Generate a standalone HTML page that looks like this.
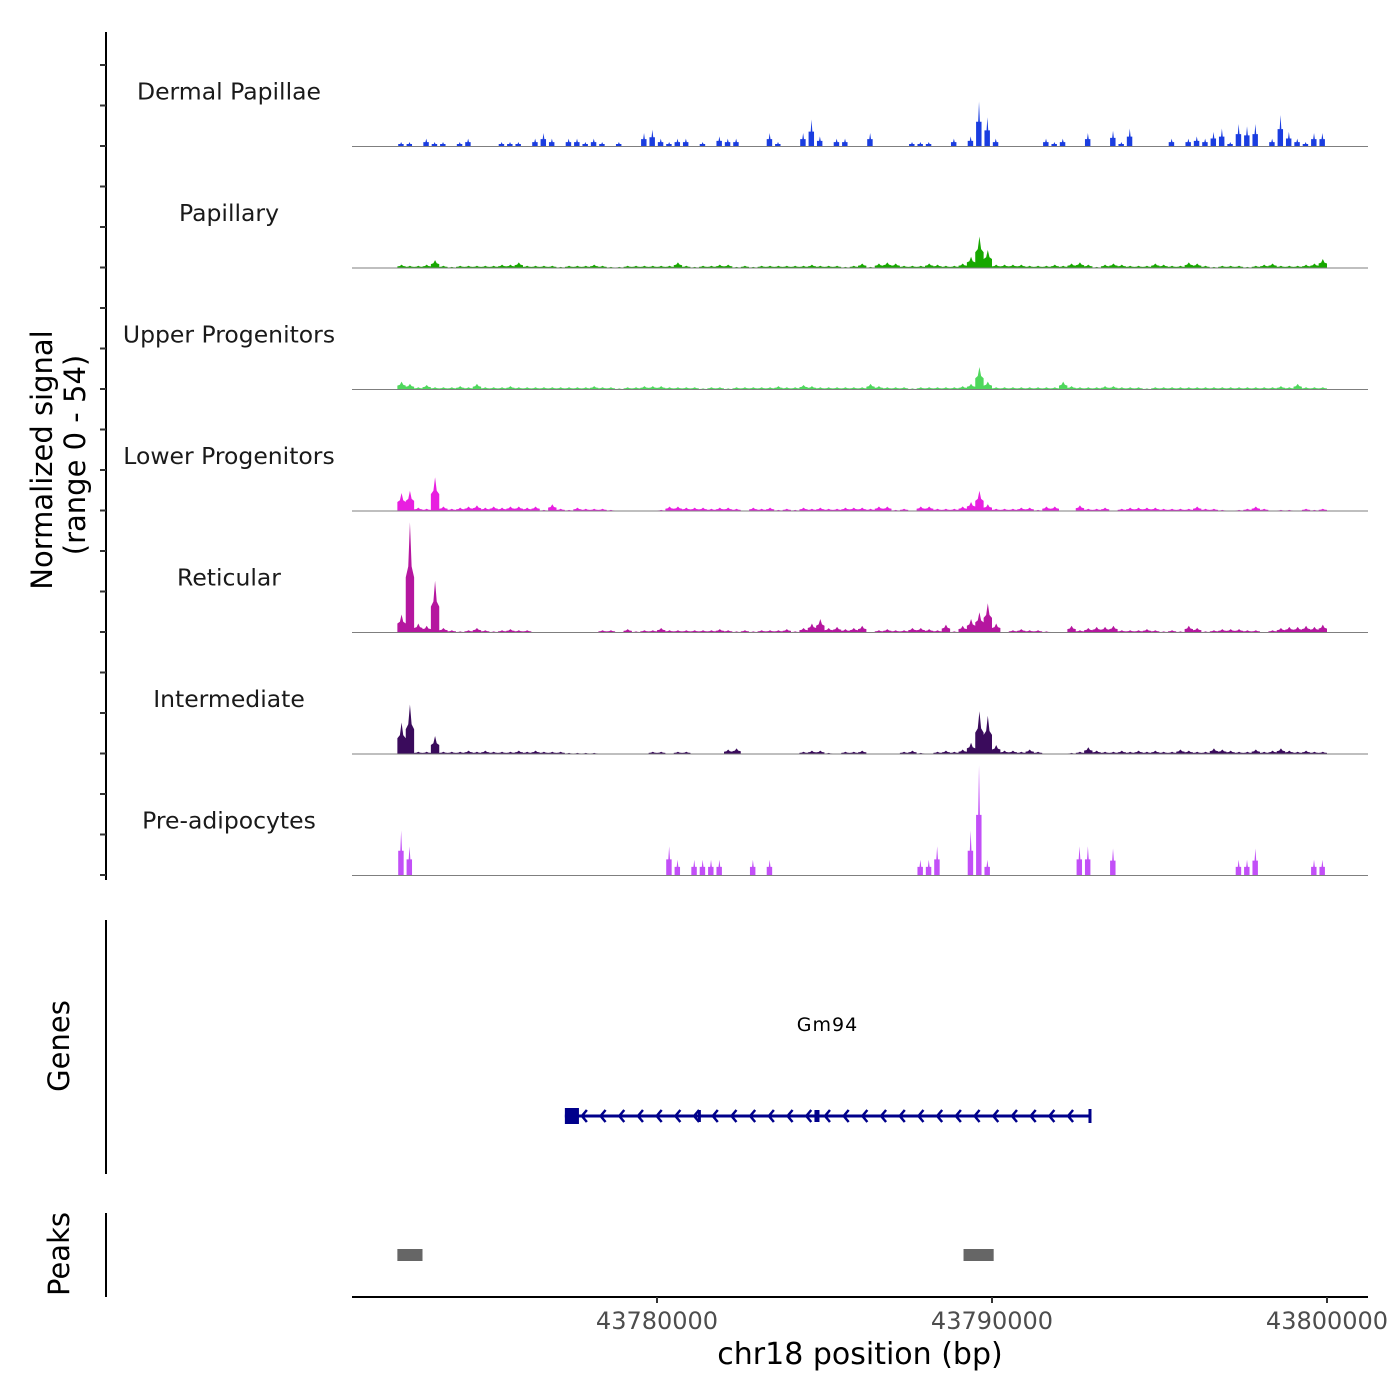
<!DOCTYPE html>
<html><head><meta charset="utf-8">
<style>
html,body{margin:0;padding:0;background:#fff;}
svg{display:block;font-family:"DejaVu Sans","Liberation Sans",sans-serif;}
</style></head>
<body>
<svg id="chart" width="1400" height="1400" viewBox="0 0 1400 1400">
  <g id="tracks"></g>
  <g id="leftaxis"></g>
  <text x="52" y="460" font-size="29" text-anchor="middle" transform="rotate(-90 52 460)">Normalized signal</text>
  <text x="85" y="455" font-size="29" text-anchor="middle" transform="rotate(-90 85 455)">(range 0 - 54)</text>
  <line x1="106" y1="920" x2="106" y2="1174" stroke="#000" stroke-width="2"/>
  <text x="69" y="1046" font-size="29" text-anchor="middle" transform="rotate(-90 69 1046)">Genes</text>
  <line x1="106" y1="1213" x2="106" y2="1297" stroke="#000" stroke-width="2"/>
  <text x="69" y="1254" font-size="29" text-anchor="middle" transform="rotate(-90 69 1254)">Peaks</text>
  <g id="genes"></g>
  <g id="peaks"></g>
  <g id="xaxis"></g>
  <text x="860" y="1364" font-size="30" text-anchor="middle">chr18 position (bp)</text>
</svg>
<script>
// ---- data ----
const trackNames = ["Dermal Papillae","Papillary","Upper Progenitors","Lower Progenitors","Reticular","Intermediate","Pre-adipocytes"];
const trackColors = ["#1a3de0","#17a800","#4fd85c","#e81fe0","#b5169f","#3a0b5c","#c24ff7"];
const binStartKb = 43772.25;
const binStepKb = 0.25;
const dermal = [2,2,0,3.5,2,2,0,2,3.5,0,0,0,2,2,2,0,3.5,6,3.5,0,3.5,3.5,2,3.5,2,0,2,0,0,6,7.5,3.5,2,3.5,3.5,0,2,0,4.5,3.5,3.5,0,0,0,6,2,0,0,6,12,4.5,0,3.5,3.5,0,0,6,0,0,0,0,2,2,2,0,0,3.5,0,4.5,20,13,3.5,0,0,0,0,0,3.5,2,3.5,0,0,6,0,0,7,2,8,0,0,0,0,3.5,0,3.5,4.5,3.5,6.5,8,2,10,9,10,0,3.5,14,6.5,3.5,2,6,6];
const papillary = [1.5,1,1,1.5,3.5,1,0.5,1,1,1,1,1,1.5,1.5,2.5,1,1,1,1,0.5,1,1,1,1.5,1,0.5,0.5,1,1,1,1,1,1,2.5,1,0.5,1,1,1.5,1.5,0.5,1,0.5,1,1,1,1,1,1,1.5,1,1,1,0.5,1,2,0.5,2,2.5,2,1,1,1,2,1.5,1,1,2,5,14,8,1.5,1.5,1.5,1.5,1,1,1,1.5,1,2,2.5,1.5,0.5,1.5,2,1.5,1,1,1,2,1.5,1,1,2.5,2,1,0.5,1,1,1,0.5,1,1.5,2,1,1,1,1.5,2,4];
const upper = [3.5,2.5,1,2,1,1,1,1.5,1,2.5,1,1,1,1.5,1,1,1,1,1,1,1,1,1,1.5,1,1,0.5,1,1,1.5,1.5,1.5,1,1,1,1,0.5,1,1,0.5,1,1,1,1,1,1.5,1,1,2,1.5,1,1,1,1,1,1,2.5,1.5,1,1,1,0.5,1,1,1,1,1,1.5,2.5,10,3.5,1,1,1,1,1,1,1,1,3.5,1.5,1,1,1,1.5,1.5,1,1,1,0.5,1,1,1,1,1,1,1,1,1,1,1,1,1,1,1,1.5,1,2.5,1,1,1];
const lower = [8,9,1.5,1,15,2,1,1.5,2,2.5,1.5,2,1.5,2,2,1.5,2,0.5,3,1,0.5,1.5,1,1,1,0.5,0,0,0,0,0,0.5,2,2,1.5,1.5,1.5,1,1.5,1.5,1,0,1.5,1,1.5,0.5,1,0.5,1.5,1,1.5,1,1,1.5,1.5,1.5,1,2,2,0.5,1,0,2,2,1,1,1,2,4,9,3,1,1,1,1.5,1.5,0.5,2,2,0,0,2.5,1,1,1.5,0,1,1.5,1.5,1.5,1.5,1,1,1,1,2,1,1,0.5,0,0.5,1,2,1,0,0.5,0.5,0,1,0.5,1];
const reticular = [8,49,4,3,23,2,1,0.5,1,2,1,0.5,1,1.5,1,1,0,0,0,0,0,0,0,0,1,1,0,1.5,0.5,1,1,2,1,1,1,1,1,1,1.5,1,0.5,1,0.5,1,1,1,1.5,0.5,2,4,6,2,2.5,1.5,2,3,0,1,1.5,1,1,2,2,1.5,1,3.5,0.5,3,6,9,13,4,0,1,1.5,1,1,0.5,0,0,3,1,2,2.5,2.5,3,1,1,1,1.5,1,0.5,1,0.5,3,2,0.5,1,1.5,1.5,1.5,1,1,0,1,2,2.5,2.5,3,2.5,3.5];
const intermediate = [14,22,1,1,8,1,1,1,1.5,1,1.5,1,1,1,1.5,1,1.5,1,1,1,0.5,0.5,0.5,0.5,0,0,0,0,0,0,1,1,0,1,1,0,0,0,0,2,2.5,0,0,0,0,0,0,0,1,1.5,1.5,0.5,0,1,1,1.5,0,0,0,0,1,1.5,0.5,0,1,1.5,1,2,5,19,17,4,1.5,1.5,1,2,1,0,0,0,0.5,1,3,1.5,1,1,1.5,1,1.5,1,1.5,1,1,2,1.5,1,1,2.5,2,1.5,1,1,2,1,1.5,2.5,1.5,1,1.5,1,1];
const preadipo = [20,13,0,0,0,0,0,0,0,0,0,0,0,0,0,0,0,0,0,0,0,0,0,0,0,0,0,0,0,0,0,0,13,7,0,7,7,7,7,0,0,0,7,0,7,0,0,0,0,0,0,0,0,0,0,0,0,0,0,0,0,0,7,7,13,0,0,0,20,49,7,0,0,0,0,0,0,0,0,0,0,13,13,0,0,12,0,0,0,0,0,0,0,0,0,0,0,0,0,0,7,7,12,0,0,0,0,0,0,7,7];
const trackValues = [dermal,papillary,upper,lower,reticular,intermediate,preadipo];
const trackStyles = ["bar","peak","peak","peak","peak","peak","bar"];
const yMax = 54;
const xTicks = [43780000,43790000,43800000];
const geneName = "Gm94";
const geneStartKb = 43777.25, geneEndKb = 43792.93;
const exonsKb = [[43777.25,43777.67],[43781.22,43781.28],[43784.7,43784.85],[43792.88,43792.93]];
const peaksKb = [[43772.25,43773.0],[43789.15,43790.05]];

// ---- scales ----
const NS="http://www.w3.org/2000/svg";
const X0=352, X1=1368;
function xKb(kb){return 657+(kb-43780)*33.5;}
const trackTop=25, trackH=121.5;
function base(i){return trackTop+trackH*(i+1);}
function yv(i,v){return base(i)-v/yMax*trackH;}
function mk(tag,attrs,parent){const e=document.createElementNS(NS,tag);for(const k in attrs)e.setAttribute(k,attrs[k]);parent.appendChild(e);return e;}

const tg=document.getElementById('tracks');
trackNames.forEach((nm,i)=>{
  const g=mk('g',{},tg);
  
  
  const t=mk('text',{x:229,y:base(i)-47,'font-size':23.5,'text-anchor':'middle',fill:'#1a1a1a'},g);
  t.textContent=nm;
  
  
  const vals=trackValues[i];
  let d='';
  vals.forEach((v,j)=>{
    if(v<=0)return;
    const a=xKb(binStartKb+j*binStepKb), b=xKb(binStartKb+(j+1)*binStepKb);
    const w=b-a, y=yv(i,v), b0=base(i);
    if(trackStyles[i]==='bar'){
      const lo=yv(i,v*0.55);
      d+=`M${a+w*0.1},${b0}L${a+w*0.1},${lo}L${a+w*0.35},${lo}L${a+w*0.45},${y}L${a+w*0.55},${lo}L${a+w*0.75},${lo}L${a+w*0.75},${b0}Z`;
    } else {
      d+=`M${a},${b0}L${a},${yv(i,v*0.5)}L${a+w*0.3},${yv(i,v*0.6)}L${a+w*0.5},${y}L${a+w*0.7},${yv(i,v*0.6)}L${b},${yv(i,v*0.5)}L${b},${b0}Z`;
    }
  });
  const p=mk('path',{d:d,fill:trackColors[i]},g);
  
  
  const l=mk('line',{x1:X0,x2:X1,y1:base(i),y2:base(i),stroke:'#7f7f7f','stroke-width':1},g);
  
  
});

// left axis
const la=document.getElementById('leftaxis');
mk('line',{x1:106,x2:106,y1:32,y2:880,stroke:'#000','stroke-width':2},la);
for(let k=0;k<=20;k++){
  const y=875-k*trackH/3;
  const tk=mk('line',{x1:100,x2:106,y1:y,y2:y,stroke:'#333','stroke-width':2},la);
  
  
}

// genes
const gg=document.getElementById('genes');
const gy=1116, gc='#00008b';
mk('line',{x1:xKb(geneStartKb),x2:xKb(geneEndKb),y1:gy,y2:gy,stroke:gc,'stroke-width':3},gg);
for(let x=xKb(geneStartKb)+17;x<xKb(geneEndKb)-4;x+=18.7){
  mk('path',{d:`M${x+5},${gy-6}L${x},${gy}L${x+5},${gy+6}`,fill:'none',stroke:gc,'stroke-width':2.5},gg);
}
exonsKb.forEach((e,k)=>{
  const a=xKb(e[0]),b=Math.max(xKb(e[1]),a+3);
  const h=k===0?16:(k===3?14:12);
  const r=mk('rect',{x:a,y:gy-h/2,width:b-a,height:h,fill:gc},gg);
  
  
});
const gt=mk('text',{x:(xKb(geneStartKb)+xKb(geneEndKb))/2,y:1031,'font-size':19,'text-anchor':'middle','letter-spacing':'1'},gg);
gt.textContent=geneName;



// peaks
const pg=document.getElementById('peaks');
peaksKb.forEach(p=>{
  const r=mk('rect',{x:xKb(p[0]),y:1249,width:xKb(p[1])-xKb(p[0]),height:12,fill:'#666'},pg);
  
  
});

// x axis
const xa=document.getElementById('xaxis');
mk('line',{x1:X0,x2:X1,y1:1297,y2:1297,stroke:'#000','stroke-width':2},xa);
xTicks.forEach(v=>{
  const x=xKb(v/1000);
  mk('line',{x1:x,x2:x,y1:1297,y2:1303,stroke:'#333','stroke-width':2},xa);
  const t=mk('text',{x:x,y:1329,'font-size':24,'text-anchor':'middle',fill:'#4d4d4d'},xa);
  t.textContent=String(v);
  
  
});
</script>
</body></html>
